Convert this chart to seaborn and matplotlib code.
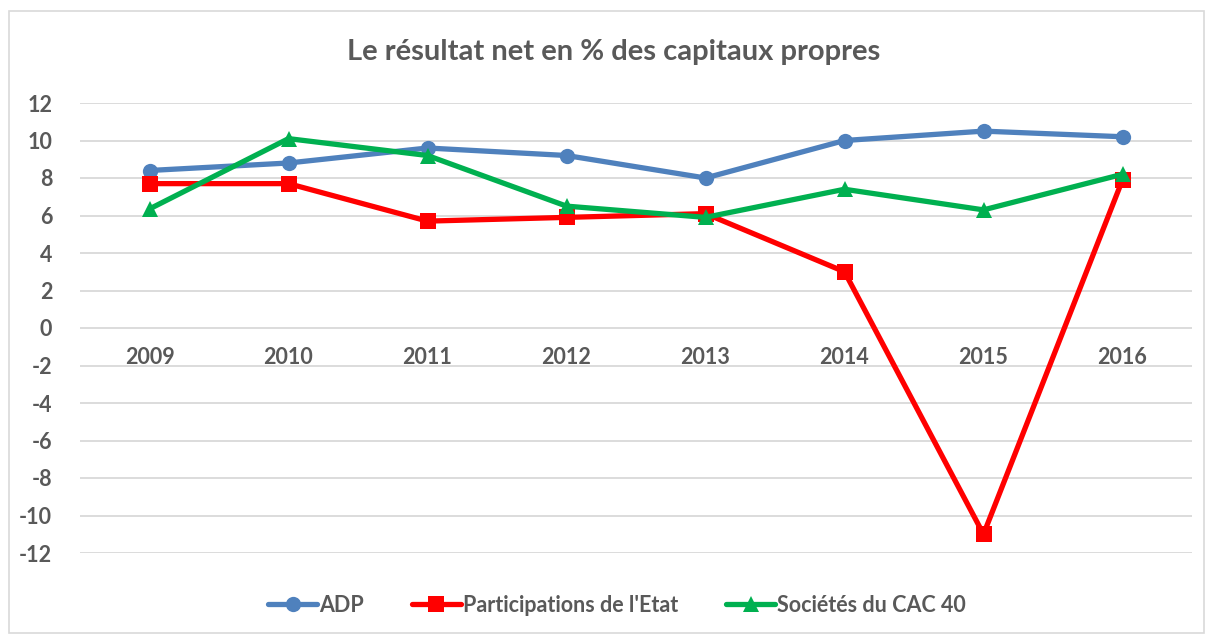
import pandas as pd
import numpy as np
import matplotlib.pyplot as plt
import seaborn as sns
from matplotlib.patches import Rectangle

# data
years = [2009, 2010, 2011, 2012, 2013, 2014, 2015, 2016]
adp = [8.4, 8.8, 9.6, 9.2, 8.0, 10.0, 10.5, 10.2]
etat = [7.7, 7.7, 5.7, 5.9, 6.1, 3.0, -11.0, 7.9]
cac40 = [6.35, 10.1, 9.2, 6.5, 5.9, 7.4, 6.3, 8.2]
series_names = ['ADP', "Participations de l'Etat", 'Sociétés du CAC 40']
yticks = list(range(-12, 13, 2))

data = pd.DataFrame({
    'annee': years * 3,
    'valeur': adp + etat + cac40,
    'serie': [series_names[0]] * 8 + [series_names[1]] * 8 + [series_names[2]] * 8,
})

sns.set_style('white')
plt.rcParams['font.family'] = ['Lato', 'DejaVu Sans']
plt.rcParams['axes.unicode_minus'] = False
grey = '#595959'

fig = plt.figure(figsize=(12.09, 6.35), dpi=100)
ax = fig.add_axes([80 / 1209, 1 - 553 / 635, 1112 / 1209, 450 / 635])

colors = {series_names[0]: '#4F81BD', series_names[1]: '#FF0000', series_names[2]: '#00B050'}
markers = {series_names[0]: 'o', series_names[1]: 's', series_names[2]: '^'}
sns.lineplot(data=data, x='annee', y='valeur', hue='serie', style='serie',
             palette=colors, markers=markers, dashes=False, linewidth=3.8,
             markersize=11, markeredgewidth=0, ax=ax)

ax.set_xlim(2008.5, 2016.5)
ax.set_ylim(-12, 12)
ax.set_yticks(yticks)
ax.set_xticks(years)
ax.set_xticklabels([str(y) for y in years])
ax.yaxis.grid(True, color='#D9D9D9', linewidth=1.3)
ax.set_axisbelow(True)
for s in ['top', 'right', 'left']:
    ax.spines[s].set_visible(False)
ax.spines['bottom'].set_position(('data', 0))
ax.spines['bottom'].set_visible(False)
ax.tick_params(axis='x', length=0, pad=14, labelsize=15.5, labelcolor=grey)
ax.tick_params(axis='y', length=0, pad=20, labelsize=15.5, labelcolor=grey)
for lab in ax.get_xticklabels() + ax.get_yticklabels():
    lab.set_fontweight('bold')
ax.set_xlabel('')
ax.set_ylabel('')

fig.text(614 / 1209, 1 - 52 / 635, 'Le résultat net en % des capitaux propres',
         ha='center', va='center', fontsize=21, fontweight='bold', color=grey)

handles, labels = ax.get_legend_handles_labels()
ax.legend_.remove()
fig.legend(handles, labels, loc='center', bbox_to_anchor=(617 / 1209, 1 - 605 / 635),
           ncol=3, frameon=False, prop={'size': 15.5, 'weight': 'bold'},
           labelcolor=grey, handlelength=2.3, handletextpad=0.1, columnspacing=2.2)

fig.patches.append(Rectangle((9 / 1209, 2 / 635), 1195 / 1209, 622 / 635,
                             transform=fig.transFigure, fill=False,
                             edgecolor='#D9D9D9', linewidth=1.2))

plt.savefig('out.png', dpi=100)
